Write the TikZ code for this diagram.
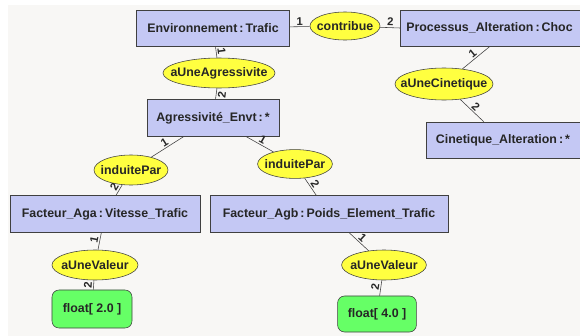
\documentclass[tikz,border=0pt]{standalone}
\usepackage{fontspec}
\setmainfont{Liberation Sans}
\usetikzlibrary{shapes.geometric}

\definecolor{conceptfill}{RGB}{196,200,244}
\definecolor{relfill}{RGB}{255,255,64}
\definecolor{valfill}{RGB}{102,255,102}
\definecolor{bgpanel}{RGB}{248,247,245}
\definecolor{edgegray}{RGB}{64,64,64}

\newcommand{\sep}{\,:\,}

\begin{document}
\begin{tikzpicture}[
    x=0.025cm, y=-0.025cm,
    every node/.style={font=\fontsize{8.8}{10}\selectfont\bfseries, text=black!85},
    concept/.style={draw=edgegray, fill=conceptfill, minimum height=0.9cm, inner sep=2pt},
    relation/.style={draw=edgegray, ellipse, fill=relfill, inner xsep=-10pt, inner ysep=-2pt},
    literal/.style={draw=edgegray, fill=valfill, rounded corners=5pt, minimum height=0.92cm},
    link/.style={draw=edgegray},
    role/.style={font=\fontsize{8}{9}\selectfont\bfseries, sloped, midway, inner sep=1pt}
]
    \useasboundingbox (0,0) rectangle (580,336);
    \clip (0,0) rectangle (580,336);
    \fill[bgpanel] (8,5) rectangle (580,336);

    \node[concept, minimum width=3.83cm] (env) at (213,28) {Environnement\sep Trafic};
    \node[relation, minimum width=1.75cm, minimum height=0.7cm] (contribue) at (345,26) {contribue};
    \node[concept, anchor=west, minimum width=5cm, text width=4.7cm] (proc) at (400,28) {Processus\_Alteration\sep Choc};
    \node[relation, minimum width=2.8cm, minimum height=0.75cm] (agressivite) at (219,73) {aUneAgressivite};
    \node[concept, minimum width=3.3cm, minimum height=0.92cm] (agress) at (213,118) {Agressivité\_Envt\sep *};
    \node[relation, minimum width=2.45cm, minimum height=0.8cm] (cinetique) at (444,84) {aUneCinetique};
    \node[concept, minimum width=3.85cm] (cin) at (503,140) {Cinetique\_Alteration\sep *};
    \node[relation, minimum width=1.85cm, minimum height=0.75cm] (induiteA) at (131,170) {induitePar};
    \node[relation, minimum width=1.87cm, minimum height=0.72cm] (induiteB) at (295,164) {induitePar};
    \node[concept, minimum width=4.75cm, minimum height=0.92cm] (factA) at (105,214) {Facteur\_Aga\sep Vitesse\_Trafic};
    \node[concept, minimum width=5.95cm, minimum height=0.92cm] (factB) at (329,214) {Facteur\_Agb\sep Poids\_Element\_Trafic};
    \node[relation, minimum width=2.15cm, minimum height=0.75cm] (valeurA) at (95,265) {aUneValeur};
    \node[literal, minimum width=2cm, minimum height=0.95cm] (floatA) at (92,309) {float[ 2.0 ]};
    \node[relation, minimum width=2.12cm, minimum height=0.75cm] (valeurB) at (384,265) {aUneValeur};
    \node[literal, minimum width=1.97cm, minimum height=0.9cm] (floatB) at (377,314) {float[ 4.0 ]};

    \path (proc.south west) ++(90,0) coordinate (procfoot);

    \draw[link] (env) -- node[role, above] {1} (contribue);
    \draw[link] (contribue) -- node[role, above] {2} (proc.west);
    \draw[link] (env) -- node[role, above] {1} (agressivite);
    \draw[link] (agressivite) -- node[role, below] {2} (agress);
    \draw[link] (procfoot) -- node[role, above] {1} (cinetique);
    \draw[link] (cinetique) -- node[role, above] {2} (cin);
    \draw[link] (agress) -- node[role, above] {1} (induiteA);
    \draw[link] (induiteA) -- node[role, above] {2} (factA);
    \draw[link] (agress) -- node[role, above] {1} (induiteB);
    \draw[link] (induiteB) -- node[role, above] {2} (factB);
    \draw[link] (factA) -- node[role, above] {1} (valeurA);
    \draw[link] (valeurA) -- node[role, above] {2} (floatA);
    \draw[link] (factB) -- node[role, above] {1} (valeurB);
    \draw[link] (valeurB) -- node[role, above] {2} (floatB);
\end{tikzpicture}
\end{document}
